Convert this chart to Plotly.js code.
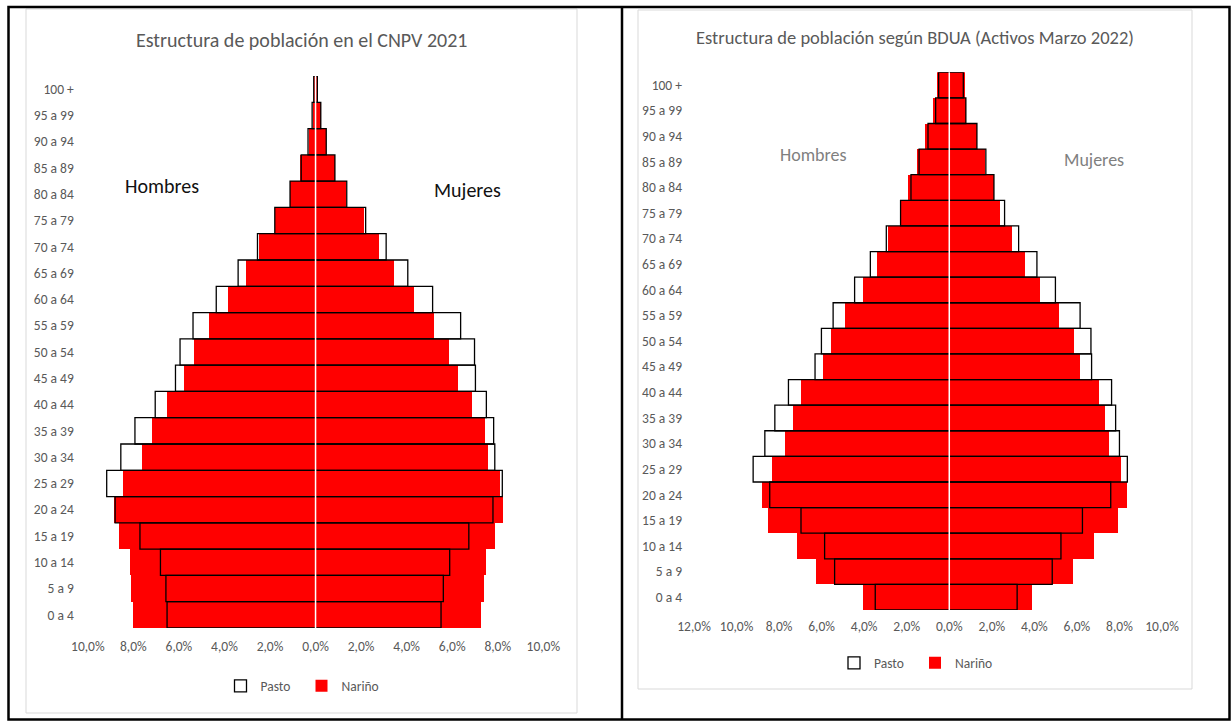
<!DOCTYPE html>
<html>
<head>
<meta charset="utf-8">
<script src="https://cdn.plot.ly/plotly-3.0.1.min.js"></script>
<style>
html,body{margin:0;padding:0;background:#fff;}
#chart{width:1231px;height:722px;}
</style>
</head>
<body>
<div id="chart"></div>
<script>
// Age groups (bottom to top)
const ageGroups = ["0 a 4","5 a 9","10 a 14","15 a 19","20 a 24","25 a 29","30 a 34","35 a 39","40 a 44","45 a 49","50 a 54","55 a 59","60 a 64","65 a 69","70 a 74","75 a 79","80 a 84","85 a 89","90 a 94","95 a 99","100 +"];

// CNPV 2021 (% of each sex)
const cnpvNarinoMen   = [8.00,8.11,8.15,8.62,8.85,8.47,7.63,7.20,6.52,5.77,5.35,4.67,3.85,3.07,2.50,1.78,1.12,0.68,0.30,0.13,0.06];
const cnpvNarinoWomen = [7.28,7.38,7.48,7.90,8.23,8.11,7.58,7.43,6.89,6.24,5.87,5.20,4.31,3.45,2.80,2.11,1.35,0.84,0.46,0.22,0.06];
const cnpvPastoMen    = [6.52,6.57,6.81,7.71,8.80,9.17,8.55,7.93,7.04,6.15,5.95,5.38,4.36,3.40,2.55,1.79,1.12,0.63,0.33,0.15,0.08];
const cnpvPastoWomen  = [5.51,5.61,5.89,6.73,7.79,8.20,7.87,7.82,7.50,7.02,6.98,6.37,5.14,4.05,3.10,2.20,1.37,0.85,0.47,0.23,0.08];

// BDUA Activos Marzo 2022 (% of each sex)
const bduaNarinoMen   = [4.06,6.26,7.16,8.51,8.82,8.32,7.73,7.35,6.98,5.94,5.56,4.92,4.07,3.41,2.88,2.29,1.92,1.53,1.14,0.76,0.59];
const bduaNarinoWomen = [3.88,5.82,6.78,7.92,8.34,8.06,7.52,7.33,7.05,6.15,5.84,5.15,4.26,3.55,2.95,2.39,2.10,1.66,1.30,0.78,0.75];
const bduaPastoMen    = [3.48,5.39,5.86,6.97,8.44,9.22,8.67,8.20,7.56,6.31,6.01,5.46,4.45,3.71,2.96,2.29,1.80,1.42,1.00,0.64,0.50];
const bduaPastoWomen  = [3.19,4.84,5.25,6.26,7.59,8.37,8.00,7.82,7.63,6.69,6.66,6.15,4.99,4.12,3.26,2.60,2.10,1.72,1.30,0.78,0.66];

// Tick labels
const leftTickVals  = [-10,-8,-6,-4,-2,0,2,4,6,8,10];
const leftTickText  = ["10,0%","8,0%","6,0%","4,0%","2,0%","0,0%","2,0%","4,0%","6,0%","8,0%","10,0%"];
const rightTickVals = [-12,-10,-8,-6,-4,-2,0,2,4,6,8,10];
const rightTickText = ["12,0%","10,0%","8,0%","6,0%","4,0%","2,0%","0,0%","2,0%","4,0%","6,0%","8,0%","10,0%"];

const FONT = "Carlito, Calibri, Lato, sans-serif";
const GREY = "#595959";
const W = 1231, H = 722;
const px = v => v / W;
const py = v => 1 - v / H;

function pyramid(men, women, name, xa, ya, legend, isOutline) {
  return {
    type: "bar", orientation: "h",
    y: ageGroups,
    base: men.map(v => -v),
    x: men.map((v, i) => v + women[i]),
    name: name,
    xaxis: xa, yaxis: ya,
    legend: legend,
    legendrank: isOutline ? 1 : 2,
    width: 1,
    marker: isOutline
      ? {color: "rgba(255,255,255,0)", line: {color: "#000", width: 1.3}}
      : {color: "#ff0000", line: {width: 0}},
    hoverinfo: "skip"
  };
}

const data = [
  pyramid(cnpvNarinoMen, cnpvNarinoWomen, "Nariño", "x", "y", "legend", false),
  pyramid(cnpvPastoMen, cnpvPastoWomen, "Pasto", "x", "y", "legend", true),
  pyramid(bduaNarinoMen, bduaNarinoWomen, "Nariño", "x2", "y2", "legend2", false),
  pyramid(bduaPastoMen, bduaPastoWomen, "Pasto", "x2", "y2", "legend2", true)
];

const tickFont = {family: FONT, size: 13.5, color: GREY};

function ann(text, x, y, size, color) {
  return {text: text, xref: "paper", yref: "paper", x: px(x), y: py(y),
          xanchor: "center", yanchor: "middle", showarrow: false,
          font: {family: FONT, size: size, color: color}};
}

const legendCommon = {
  orientation: "h", xanchor: "center", yanchor: "middle",
  font: {family: FONT, size: 13.5, color: GREY}, itemwidth: 30,
  entrywidthmode: "pixels", entrywidth: 36,
  bgcolor: "rgba(0,0,0,0)"
};

const layout = {
  width: W, height: H, autosize: false,
  margin: {l: 0, r: 0, t: 0, b: 0},
  paper_bgcolor: "#fff", plot_bgcolor: "rgba(0,0,0,0)",
  barmode: "overlay", bargap: 0,
  font: {family: FONT, color: GREY},
  xaxis: {
    domain: [px(87.8), px(543.3)], range: [-10, 10], anchor: "y",
    tickvals: leftTickVals, ticktext: leftTickText, tickfont: tickFont,
    showgrid: false, zeroline: false, showline: false, ticks: "",
    ticklabelstandoff: 8, fixedrange: true
  },
  yaxis: {
    domain: [py(628), py(76)], anchor: "x", type: "category",
    range: [-0.5, 20.5],
    tickfont: tickFont, showgrid: false, zeroline: false, showline: false, ticks: "",
    ticklabelstandoff: 13, fixedrange: true
  },
  xaxis2: {
    domain: [px(694), px(1162)], range: [-12, 10], anchor: "y2",
    tickvals: rightTickVals, ticktext: rightTickText, tickfont: tickFont,
    showgrid: false, zeroline: false, showline: false, ticks: "",
    ticklabelstandoff: 6, fixedrange: true
  },
  yaxis2: {
    domain: [py(610), py(72.3)], anchor: "x2", type: "category",
    range: [-0.5, 20.5],
    tickfont: tickFont, showgrid: false, zeroline: false, showline: false, ticks: "",
    ticklabelstandoff: 11, fixedrange: true
  },
  legend: Object.assign({x: px(301.5), y: py(686)}, legendCommon),
  legend2: Object.assign({x: px(915), y: py(663)}, legendCommon),
  annotations: [
    ann("Estructura de población en el CNPV 2021", 301, 40, 20, GREY),
    ann("Estructura de población según BDUA (Activos Marzo 2022)", 915, 38, 18.5, GREY),
    ann("Hombres", 162, 186, 20, "#111"),
    ann("Mujeres", 467, 190, 20, "#111"),
    ann("Hombres", 813, 155, 18, "#7f7f7f"),
    ann("Mujeres", 1094, 160, 18, "#7f7f7f")
  ],
  shapes: [
    {type: "line", xref: "x", yref: "y domain", x0: 0, x1: 0, y0: 0, y1: 1,
     line: {color: "#fff", width: 1.5}, layer: "above"},
    {type: "line", xref: "x2", yref: "y2 domain", x0: 0, x1: 0, y0: 0, y1: 1,
     line: {color: "#fff", width: 1.5}, layer: "above"},
    {type: "rect", xref: "paper", yref: "paper", x0: px(26), x1: px(577), y0: py(713), y1: py(9),
     line: {color: "#d9d9d9", width: 1}, layer: "below"},
    {type: "rect", xref: "paper", yref: "paper", x0: px(638), x1: px(1192), y0: py(689), y1: py(10),
     line: {color: "#d9d9d9", width: 1}, layer: "below"},
    {type: "rect", xref: "paper", yref: "paper", x0: px(8.5), x1: px(1229.5), y0: py(719.5), y1: py(7),
     line: {color: "#000", width: 2.5}, layer: "above"},
    {type: "line", xref: "paper", yref: "paper", x0: px(622), x1: px(622), y0: py(719.5), y1: py(7),
     line: {color: "#000", width: 2.5}, layer: "above"}
  ]
};

Plotly.newPlot("chart", data, layout, {displayModeBar: false, staticPlot: true});
</script>
</body>
</html>
